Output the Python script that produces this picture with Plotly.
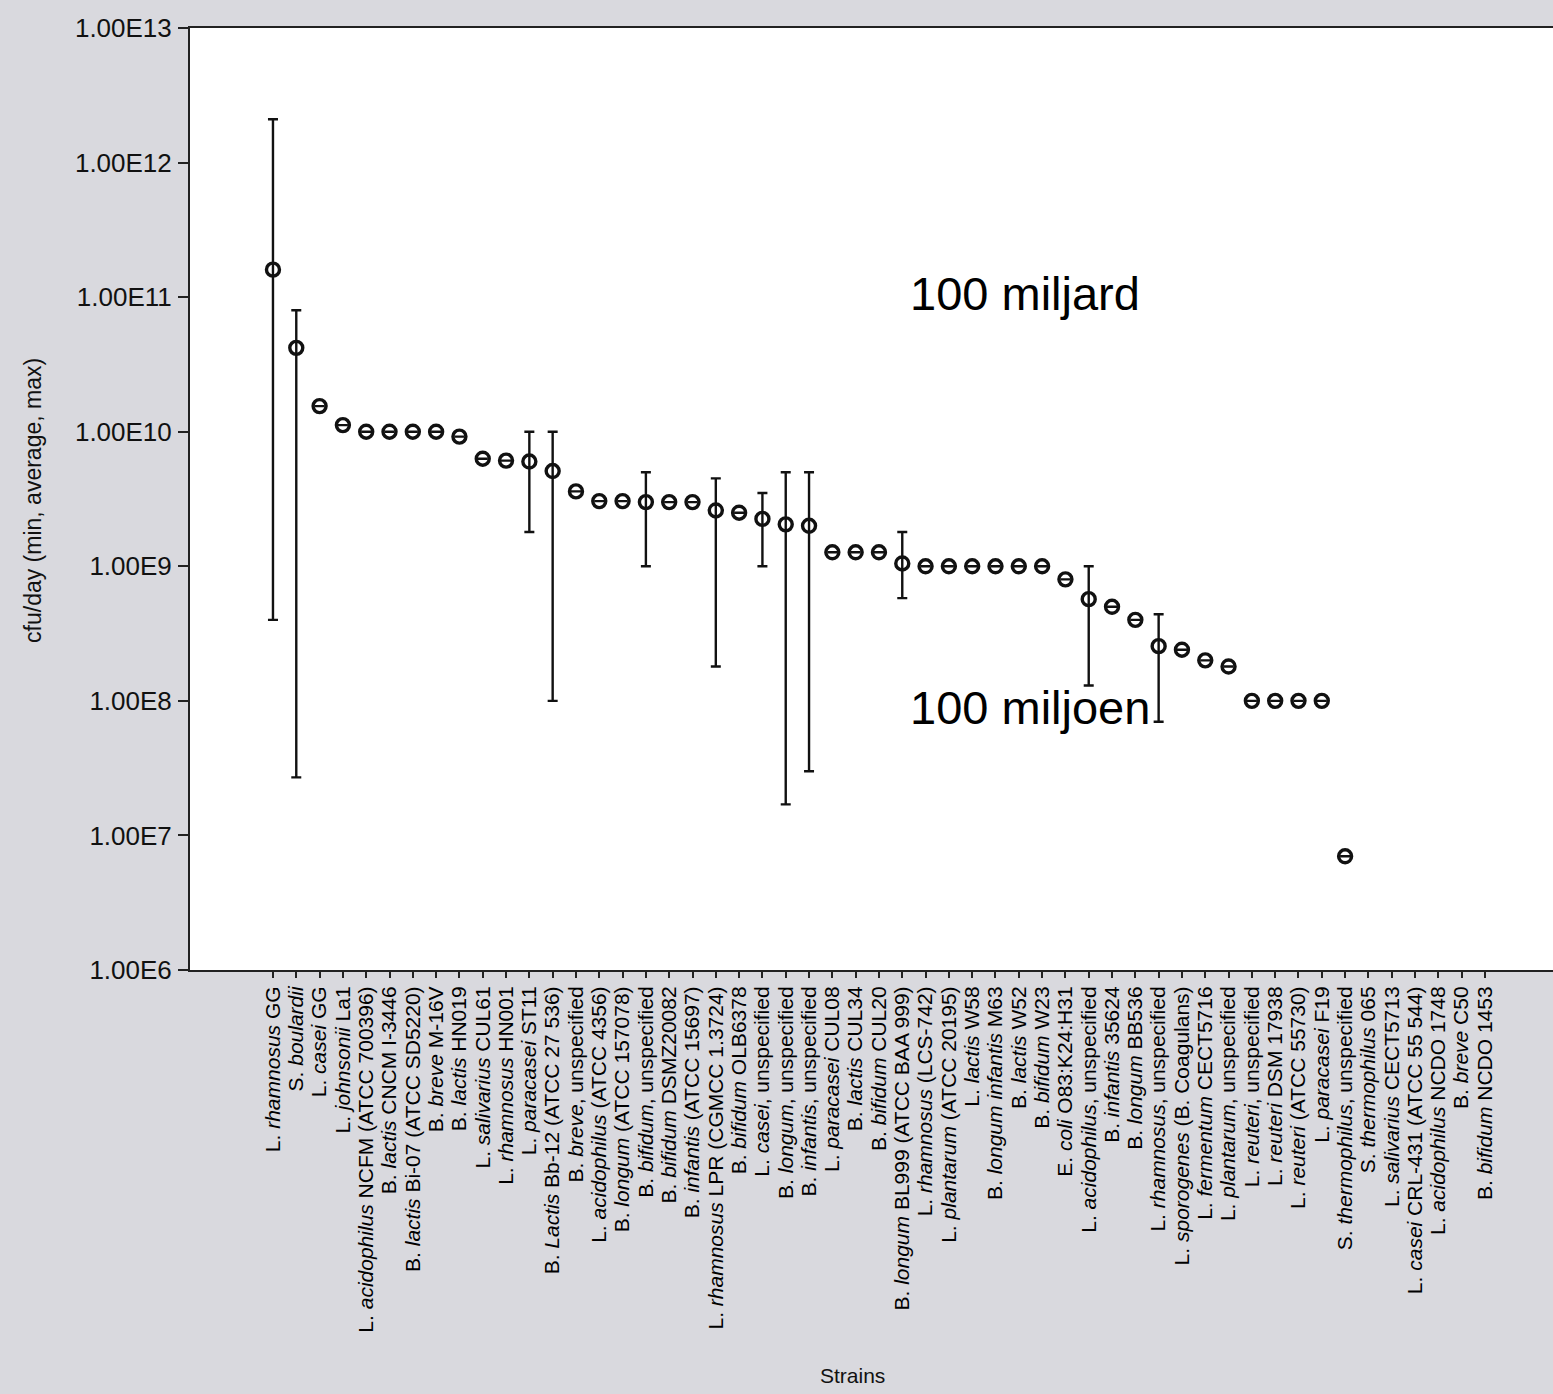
import plotly.graph_objects as go

# strains in the order of the chart
strains = [
    "L. <i>rhamnosus</i> GG", "S. <i>boulardii</i>", "L. <i>casei</i> GG",
    "L. <i>johnsonii</i> La1", "L. <i>acidophilus</i> NCFM (ATCC 700396)",
    "B. <i>lactis</i> CNCM I-3446", "B. <i>lactis</i> Bi-07 (ATCC SD5220)",
    "B. <i>breve</i> M-16V", "B. <i>lactis</i> HN019", "L. <i>salivarius</i> CUL61",
    "L. <i>rhamnosus</i> HN001", "L. <i>paracasei</i> ST11",
    "B. <i>Lactis</i> Bb-12 (ATCC 27 536)", "B. <i>breve</i>, unspecified",
    "L. <i>acidophilus</i> (ATCC 4356)", "B. <i>longum</i> (ATCC 157078)",
    "B. <i>bifidum</i>, unspecified", "B. <i>bifidum</i> DSMZ20082",
    "B. <i>infantis</i> (ATCC 15697)", "L. <i>rhamnosus</i> LPR (CGMCC 1.3724)",
    "B. <i>bifidum</i> OLB6378", "L. <i>casei</i>, unspecified",
    "B. <i>longum</i>, unspecified", "B. <i>infantis</i>, unspecified",
    "L. <i>paracasei</i> CUL08", "B. <i>lactis</i> CUL34", "B. <i>bifidum</i> CUL20",
    "B. <i>longum</i> BL999 (ATCC BAA 999)", "L. <i>rhamnosus</i> (LCS-742)",
    "L. <i>plantarum</i> (ATCC 20195)", "L. <i>lactis</i> W58",
    "B. <i>longum infantis</i> M63", "B. <i>lactis</i> W52", "B. <i>bifidum</i> W23",
    "E. <i>coli</i> O83:K24:H31", "L. <i>acidophilus</i>, unspecified",
    "B. <i>infantis</i> 35624", "B. <i>longum</i> BB536",
    "L. <i>rhamnosus</i>, unspecified", "L. <i>sporogenes</i> (B. Coagulans)",
    "L. <i>fermentum</i> CECT5716", "L. <i>plantarum</i>, unspecified",
    "L. <i>reuteri</i>, unspecified", "L. <i>reuteri</i> DSM 17938",
    "L. <i>reuteri</i> (ATCC 55730)", "L. <i>paracasei</i> F19",
    "S. <i>thermophilus</i>, unspecified", "S. <i>thermophilus</i> 065",
    "L. <i>salivarius</i> CECT5713", "L. <i>casei</i> CRL-431 (ATCC 55 544)",
    "L. <i>acidophilus</i> NCDO 1748", "B. <i>breve</i> C50",
    "B. <i>bifidum</i> NCDO 1453",
]

# average cfu/day
avg = [
    1.6e11, 4.2e10, 1.55e10, 1.12e10, 1e10, 1e10, 1e10, 1e10, 9.2e9, 6.3e9,
    6.1e9, 6e9, 5.1e9, 3.6e9, 3.05e9, 3.05e9, 3e9, 3e9, 3e9, 2.6e9,
    2.5e9, 2.25e9, 2.05e9, 2e9, 1.27e9, 1.27e9, 1.27e9, 1.05e9, 1e9, 1e9,
    1e9, 1e9, 1e9, 1e9, 8e8, 5.7e8, 5e8, 4e8, 2.55e8, 2.4e8,
    2e8, 1.8e8, 1e8, 1e8, 1e8, 1e8, 7e6, None, None, None,
    None, None, None,
]

# min / max (None = no range given)
lo = [None] * len(strains)
hi = [None] * len(strains)
ranges = {
    0: (4e8, 2.1e12), 1: (2.7e7, 8e10), 11: (1.8e9, 1e10), 12: (1e8, 1e10),
    16: (1e9, 5e9), 19: (1.8e8, 4.5e9), 21: (1e9, 3.5e9), 22: (1.7e7, 5e9),
    23: (3e7, 5e9), 27: (5.8e8, 1.8e9), 35: (1.3e8, 1e9), 38: (7e7, 4.4e8),
}
for i, (a, b) in ranges.items():
    lo[i], hi[i] = a, b

err_plus = [h - a if h is not None else None for a, h in zip(avg, hi)]
err_minus = [a - l if l is not None else None for a, l in zip(avg, lo)]

ytick_vals = [1e6, 1e7, 1e8, 1e9, 1e10, 1e11, 1e12, 1e13]
ytick_text = ["1.00E6", "1.00E7", "1.00E8", "1.00E9", "1.00E10", "1.00E11", "1.00E12", "1.00E13"]

font = "Liberation Sans, Arial, sans-serif"

fig = go.Figure()
fig.add_trace(go.Scatter(
    x=strains, y=avg, mode="markers",
    marker=dict(symbol="circle-open", size=13, color="#111", line=dict(width=3.4)),
    error_y=dict(type="data", symmetric=False, array=err_plus, arrayminus=err_minus,
                 color="#111", thickness=2.4, width=5),
    showlegend=False,
))

fig.add_annotation(text="100 miljard", x=0.527, y=0.718, xref="paper", yref="paper",
                   xanchor="left", yanchor="middle", showarrow=False,
                   font=dict(family=font, size=47, color="black"))
fig.add_annotation(text="100 miljoen", x=0.527, y=0.279, xref="paper", yref="paper",
                   xanchor="left", yanchor="middle", showarrow=False,
                   font=dict(family=font, size=47, color="black"))
fig.add_annotation(text="Strains", x=0.4857, y=-0.43, xref="paper", yref="paper",
                   xanchor="center", yanchor="middle", showarrow=False,
                   font=dict(family=font, size=21, color="#111"))
fig.add_annotation(text="cfu/day (min, average, max)", x=-0.1152, y=0.499,
                   xref="paper", yref="paper", textangle=-90,
                   xanchor="center", yanchor="middle", showarrow=False,
                   font=dict(family=font, size=23, color="#111"))

fig.update_xaxes(type="category", range=[-3.56, 54.92], tickangle=-90,
                 tickmode="array", tickvals=strains, ticktext=strains,
                 showline=True, linecolor="#222", linewidth=2, mirror=True,
                 ticks="outside", ticklen=6, tickwidth=1.5, tickcolor="#222",
                 tickfont=dict(family=font, size=21, color="#000"),
                 showgrid=False, zeroline=False)
fig.update_yaxes(type="log", range=[6, 13], tickvals=ytick_vals, ticktext=ytick_text,
                 showline=True, linecolor="#222", linewidth=2,
                 ticks="outside", ticklen=10, tickwidth=1.5, tickcolor="#222",
                 ticklabelstandoff=1,
                 tickfont=dict(family=font, size=26, color="#111"),
                 showgrid=False, zeroline=False)

fig.update_layout(width=1553, height=1394,
                  margin=dict(l=190, r=0, t=28, b=424),
                  paper_bgcolor="#d9d9de", plot_bgcolor="white",
                  font=dict(family=font))

fig.write_html("out.html", config={"displayModeBar": False},
               post_script="document.body.style.margin='0';")
